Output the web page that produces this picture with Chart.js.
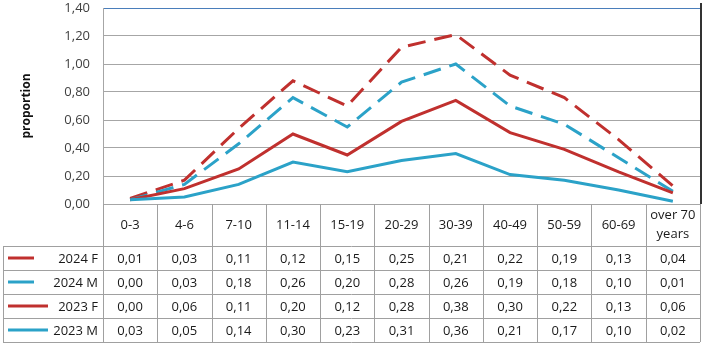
<!DOCTYPE html>
<html>
<head>
<meta charset="utf-8">
<script src="https://cdn.jsdelivr.net/npm/chart.js@4/dist/chart.umd.min.js"></script>
<style>
  body { margin: 0; background: #fff; }
  canvas { display: block; }
</style>
</head>
<body>
<canvas id="ageChart" width="704" height="344"></canvas>
<script>
const categories = ['0-3', '4-6', '7-10', '11-14', '15-19', '20-29', '30-39', '40-49', '50-59', '60-69', ['over 70', 'years']];

const f2024 = [0.01, 0.03, 0.11, 0.12, 0.15, 0.25, 0.21, 0.22, 0.19, 0.13, 0.04];
const m2024 = [0.00, 0.03, 0.18, 0.26, 0.20, 0.28, 0.26, 0.19, 0.18, 0.10, 0.01];
const f2023 = [0.00, 0.06, 0.11, 0.20, 0.12, 0.28, 0.38, 0.30, 0.22, 0.13, 0.06];
const m2023 = [0.03, 0.05, 0.14, 0.30, 0.23, 0.31, 0.36, 0.21, 0.17, 0.10, 0.02];

const yTicks = [0, 0.2, 0.4, 0.6, 0.8, 1.0, 1.2, 1.4];

const RED = '#c0302e';
const BLUE = '#2ba2c8';
const FONT = '"Open Sans", "Noto Sans", sans-serif';

const fmt = v => v.toFixed(2).replace('.', ',');

// rows of the table, top to bottom (the lines are stacked from the last one up)
const tableRows = [
    { label: '2024 F', data: f2024, color: RED, dash: true },
    { label: '2024 M', data: m2024, color: BLUE, dash: true },
    { label: '2023 F', data: f2023, color: RED, dash: false },
    { label: '2023 M', data: m2023, color: BLUE, dash: false }
];

const tablePlugin = {
    id: 'dataTable',
    afterDraw(chart) {
        const ctx = chart.ctx;
        const area = chart.chartArea;
        const x = chart.scales.x;
        const colW = x.getPixelForValue(1) - x.getPixelForValue(0);
        const top = area.bottom;
        const headH = 42, rowH = 24;
        const tableLeft = 3;
        const bottom = top + headH + rowH * tableRows.length;

        ctx.save();
        // right frame of the plot
        ctx.strokeStyle = '#333';
        ctx.lineWidth = 2;
        ctx.beginPath();
        ctx.moveTo(area.right + 1, 3);
        ctx.lineTo(area.right + 1, top);
        ctx.stroke();

        ctx.strokeStyle = '#a0a0a0';
        ctx.lineWidth = 1;
        ctx.beginPath();
        // vertical column lines
        for (let i = 0; i <= categories.length; i++) {
            const px = Math.round(area.left + i * colW) + 0.5;
            ctx.moveTo(px, top);
            ctx.lineTo(px, bottom);
        }
        ctx.moveTo(tableLeft + 0.5, top + headH);
        ctx.lineTo(tableLeft + 0.5, bottom);
        // horizontal row lines
        for (let r = 0; r <= tableRows.length; r++) {
            const py = Math.round(top + headH + r * rowH) + 0.5;
            ctx.moveTo(tableLeft, py);
            ctx.lineTo(area.right, py);
        }
        ctx.stroke();

        ctx.fillStyle = '#1a1a1a';
        ctx.font = '13px ' + FONT;
        ctx.textAlign = 'center';
        ctx.textBaseline = 'middle';
        categories.forEach((c, i) => {
            const cx = area.left + (i + 0.5) * colW;
            const lines = Array.isArray(c) ? c : [c];
            const lh = 19;
            lines.forEach((t, k) => {
                ctx.fillText(t, cx, top + headH / 2 + (k - (lines.length - 1) / 2) * lh);
            });
        });

        tableRows.forEach((row, r) => {
            const cy = top + headH + (r + 0.5) * rowH;
            ctx.textAlign = 'center';
            row.data.forEach((v, i) => {
                ctx.fillText(fmt(v), area.left + (i + 0.5) * colW, cy + 1);
            });
            ctx.textAlign = 'right';
            ctx.fillText(row.label, area.left - 5, cy + 1);
            ctx.strokeStyle = row.color;
            ctx.lineWidth = 3;
            ctx.beginPath();
            ctx.moveTo(8, cy);
            ctx.lineTo(row.dash ? 34 : 48, cy);
            ctx.stroke();
        });
        ctx.restore();
    }
};

const ctx = document.getElementById('ageChart').getContext('2d');
new Chart(ctx, {
    type: 'line',
    data: {
        labels: categories,
        datasets: [
            { label: '2023 M', data: m2023, borderColor: BLUE },
            { label: '2023 F', data: f2023, borderColor: RED },
            { label: '2024 M', data: m2024, borderColor: BLUE, borderDash: [18, 9] },
            { label: '2024 F', data: f2024, borderColor: RED, borderDash: [18, 9] }
        ].map(d => ({ ...d, borderWidth: 3, pointRadius: 0, tension: 0, fill: false }))
    },
    options: {
        responsive: false,
        animation: false,
        layout: { padding: { top: 8, right: 4, bottom: 140, left: 0 } },
        plugins: {
            legend: { display: false },
            tooltip: { enabled: false }
        },
        scales: {
            x: {
                display: false,
                offset: true
            },
            y: {
                stacked: true,
                min: 0,
                max: 1.4,
                afterFit: s => { s.width = 103; },
                afterBuildTicks: s => { s.ticks = yTicks.map(v => ({ value: v })); },
                ticks: {
                    padding: 0,
                    color: '#404040',
                    font: { family: FONT, size: 13 },
                    callback: v => fmt(v)
                },
                grid: {
                    drawTicks: true,
                    tickLength: 13,
                    tickColor: 'rgba(0,0,0,0)',
                    color: c => c.tick && c.tick.value === 1.4 ? '#4a7ebb' : '#a6a6a6'
                },
                border: { color: '#a6a6a6' },
                title: {
                    display: true,
                    text: 'proportion',
                    color: '#111',
                    font: { family: FONT, size: 12, weight: 'bold' },
                    padding: { top: 19, bottom: 0 }
                }
            }
        }
    },
    plugins: [tablePlugin]
});
</script>
</body>
</html>
